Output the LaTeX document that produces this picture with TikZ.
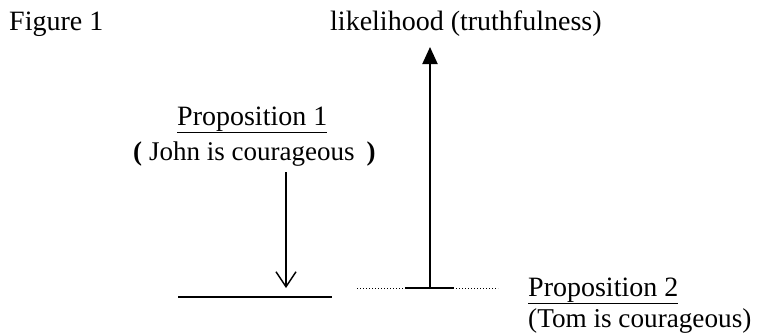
\documentclass[tikz,border=0pt]{standalone}
\usepackage{fontspec}
\setmainfont{Liberation Serif}
\usetikzlibrary{arrows.meta}
\begin{document}
\begin{tikzpicture}[x=1pt,y=-1pt,
  txt/.style={font=\fontsize{28}{32}\selectfont, inner sep=0pt, anchor=base west},
  upar/.style={line width=2pt, -{Triangle[length=17pt,width=15pt]}},
  downar/.style={line width=1.4pt, -{Straight Barb[length=15pt,width=20pt,line width=1.4pt]}},
  base/.style={line width=1.6pt}]
\useasboundingbox (0,0) rectangle (757,333);
\node[txt] (fig) at (9,30) {Figure 1};
\node[txt] (lik) at (330,30) {likelihood (truthfulness)};
\node[txt] (p1) at (177,125) {\underline{Proposition 1}};
\node[txt, font=\fontsize{27}{32}\selectfont] (j) at (133,160) {\textbf{(}\hspace{7pt}John is courageous\hspace{12pt}\textbf{)}};
\node[txt] (p2) at (528,296) {\underline{Proposition 2}};
\node[txt, font=\fontsize{27.2}{32}\selectfont] (t) at (528,327) {(Tom is courageous)};
% left baseline (underscores)
\coordinate (la) at (178,297);
\coordinate (lb) at (276,297);
\coordinate (lc) at (332,297);
\draw[line width=1.2pt] (la) -- (lb);
\draw[base] (lb) -- (lc);
% down arrow
\coordinate (d1) at (286,172);
\coordinate (d2) at (286,288);
\draw[downar] (d1) -- (d2);
% dotted line with solid middle
\coordinate (da) at (357,288);
\coordinate (db) at (498,288);
\coordinate (sa) at (405,288);
\coordinate (sb) at (454,288);
\draw[dotted, line width=1pt] (da) -- (db);
\draw[base] (sa) -- (sb);
% up arrow
\coordinate (u1) at (430,289);
\coordinate (u2) at (430,47);
\draw[upar] (u1) -- (u2);
\end{tikzpicture}
\end{document}
